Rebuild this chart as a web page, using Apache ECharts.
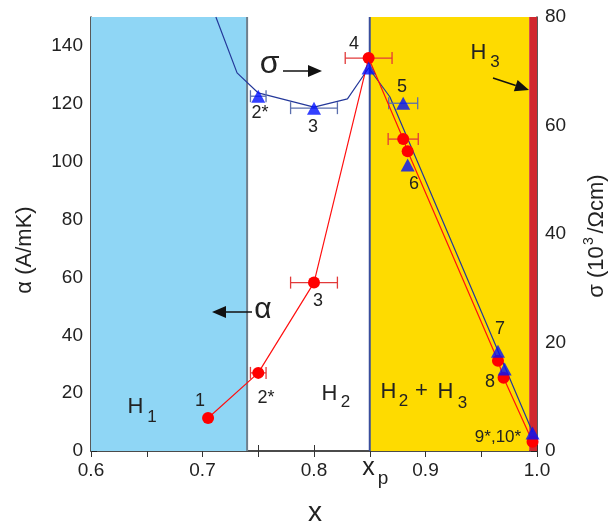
<!DOCTYPE html>
<html>
<head>
<meta charset="utf-8">
<script src="https://cdn.jsdelivr.net/npm/echarts@6/dist/echarts.min.js"></script>
<style>
  html, body { margin: 0; padding: 0; background: #fff; }
  #main { width: 615px; height: 525px; }
</style>
</head>
<body>
<div id="main"></div>
<script>
var FONT = 'Liberation Sans, Arial, sans-serif';

// x ticks every 0.05, only some labelled
var xTickLabels = ['0.6', '', '0.7', '', '0.8', '', '0.9', '', '1.0'];

// alpha (left axis) : red circles
var alphaX   = [0.705, 0.750, 0.800, 0.849, 0.880, 0.884, 0.965, 0.970, 0.996];
var alphaY   = [11.4, 27.0, 58.2, 135.8, 107.8, 103.6, 31.2, 25.3, 3.2];
var alphaErr = [0, 0.007, 0.021, 0.021, 0.0135, 0, 0, 0, 0];

// sigma (right axis) : blue triangles
var sigmaX   = [0.750, 0.800, 0.849, 0.880, 0.884, 0.965, 0.971, 0.996];
var sigmaY   = [65.4, 63.2, 70.6, 64.1, 52.7, 18.4, 15.1, 3.3];
var sigmaErr = [0.007, 0.021, 0, 0.013, 0, 0, 0, 0];

// sigma guide curve
var curveX = [0.712, 0.731, 0.750, 0.800, 0.830, 0.849, 0.868, 0.996];
var curveY = [80, 69.7, 66.0, 63.4, 64.9, 70.6, 65.3, 3.5];

// phase regions [from, to, colour]
var regions = [
  [0.60, 0.74, '#8fd6f5'],
  [0.85, 0.993, '#fedb00'],
  [0.993, 1.0, '#d0282e']
];
var borders = [[0.74, '#6f7f8c'], [0.85, '#3a4e9c']];

function zip(xs, ys) {
  var out = [];
  for (var i = 0; i < xs.length; i++) out.push([xs[i], ys[i]]);
  return out;
}
function zip3(xs, ys, es) {
  var out = [];
  for (var i = 0; i < xs.length; i++) {
    if (es[i] > 0) out.push([xs[i], ys[i], es[i]]);
  }
  return out;
}

function errBars(color) {
  return function (params, api) {
    var x = api.value(0), y = api.value(1), e = api.value(2);
    var a = api.coord([x - e, y]);
    var b = api.coord([x + e, y]);
    var st = { stroke: color, lineWidth: 1.3 };
    return {
      type: 'group',
      children: [
        { type: 'line', shape: { x1: a[0], y1: a[1], x2: b[0], y2: b[1] }, style: st },
        { type: 'line', shape: { x1: a[0], y1: a[1] - 6, x2: a[0], y2: a[1] + 6 }, style: st },
        { type: 'line', shape: { x1: b[0], y1: b[1] - 6, x2: b[0], y2: b[1] + 6 }, style: st }
      ]
    };
  };
}

function txt(s, x, y, size, rot) {
  return {
    type: 'text', z: 50, x: x, y: y, rotation: rot || 0,
    style: {
      text: s, x: 0, y: 0, fill: '#222', font: size + 'px ' + FONT,
      textAlign: 'center', textVerticalAlign: 'middle'
    }
  };
}

function arrow(x1, y1, x2, y2) {
  var ang = Math.atan2(y2 - y1, x2 - x1);
  var L = 14, W = 6;
  var bx = x2 - L * Math.cos(ang), by = y2 - L * Math.sin(ang);
  var px = -Math.sin(ang) * W, py = Math.cos(ang) * W;
  return {
    type: 'group', z: 50,
    children: [
      { type: 'line', z: 50, shape: { x1: x1, y1: y1, x2: bx, y2: by }, style: { stroke: '#111', lineWidth: 1.5 } },
      { type: 'polygon', z: 50, shape: { points: [[x2, y2], [bx + px, by + py], [bx - px, by - py]] }, style: { fill: '#111' } }
    ]
  };
}

var chart = echarts.init(document.getElementById('main'));

var axisText = { color: '#222', fontSize: 19, fontFamily: FONT };

option = {
  animation: false,
  grid: { left: 91, right: 78, top: 17, bottom: 74 },
  xAxis: [
    {
      type: 'value', min: 0.6, max: 1.0, interval: 0.05,
      splitLine: { show: false },
      axisLine: { lineStyle: { color: '#333', width: 1.5 } },
      axisTick: { inside: true, length: 6, lineStyle: { color: '#333' } },
      axisLabel: Object.assign({
        margin: 10,
        formatter: function (v) { return xTickLabels[Math.round((v - 0.6) / 0.05)] || ''; }
      }, axisText)
    },
    {
      type: 'value', position: 'top', min: 0.6, max: 1.0, interval: 0.05,
      splitLine: { show: false },
      axisLine: { lineStyle: { color: '#444', width: 1.5 } },
      axisTick: { inside: true, length: 6, lineStyle: { color: '#333' } },
      axisLabel: { show: false }
    }
  ],
  yAxis: [
    {
      type: 'value', min: 0, max: 150, interval: 10,
      splitLine: { show: false },
      axisLine: { show: true, lineStyle: { color: '#222', width: 1.5 } },
      axisTick: { show: true, inside: true, length: 6, lineStyle: { color: '#222' } },
      axisLabel: Object.assign({
        margin: 8,
        formatter: function (v) { return v % 20 === 0 ? String(v) : ''; }
      }, axisText)
    },
    {
      type: 'value', min: 0, max: 80, interval: 10, position: 'right',
      splitLine: { show: false },
      axisLine: { show: true, lineStyle: { color: '#222', width: 1.5 } },
      axisTick: { show: true, inside: true, length: 6, lineStyle: { color: '#222' } },
      axisLabel: Object.assign({
        margin: 8,
        formatter: function (v) { return v % 20 === 0 ? String(v) : ''; }
      }, axisText)
    }
  ],
  series: [
    {
      type: 'custom', z: 1, silent: true,
      data: regions,
      renderItem: function (params, api) {
        var p0 = api.coord([api.value(0), 150]);
        var p1 = api.coord([api.value(1), 0]);
        return {
          type: 'rect',
          shape: { x: p0[0], y: p0[1], width: p1[0] - p0[0], height: p1[1] - p0[1] },
          style: { fill: regions[params.dataIndex][2] }
        };
      }
    },
    {
      type: 'custom', z: 2, silent: true,
      data: borders,
      renderItem: function (params, api) {
        var p0 = api.coord([api.value(0), 150]);
        var p1 = api.coord([api.value(0), 0]);
        return {
          type: 'line',
          shape: { x1: p0[0], y1: p0[1], x2: p1[0], y2: p1[1] },
          style: { stroke: borders[params.dataIndex][1], lineWidth: 2 }
        };
      }
    },
    {
      type: 'line', yAxisIndex: 1, z: 3,
      data: zip(curveX, curveY),
      showSymbol: false,
      lineStyle: { color: '#24389a', width: 1.2 }
    },
    {
      type: 'custom', z: 4, yAxisIndex: 1,
      data: zip3(sigmaX, sigmaY, sigmaErr),
      renderItem: errBars('#5b6fae')
    },
    {
      type: 'custom', z: 4,
      data: zip3(alphaX, alphaY, alphaErr),
      renderItem: errBars('#e23a3a')
    },
    {
      type: 'line', z: 5,
      data: zip(alphaX, alphaY),
      symbol: 'circle', symbolSize: 12,
      itemStyle: { color: '#ff0000' },
      lineStyle: { color: '#ff1010', width: 1.2 }
    },
    {
      type: 'scatter', yAxisIndex: 1, z: 6,
      data: zip(sigmaX, sigmaY),
      symbol: 'triangle', symbolSize: [14, 13],
      itemStyle: { color: '#0010ff' }
    }
  ],
  graphic: [
    // point labels
    txt('1', 200, 401, 18),
    txt('2*', 266, 398, 18),
    txt('2*', 260, 113, 18),
    txt('3', 318, 301, 18),
    txt('3', 313, 127, 18),
    txt('4', 354, 44, 18),
    txt('5', 402, 87, 18),
    txt('6', 414, 184, 18),
    txt('7', 500, 329, 18),
    txt('8', 490, 382, 18),
    txt('9*,10*', 498, 437, 17),
    // phase labels
    txt('H', 135.5, 406.5, 22), txt('1', 152, 417, 17),
    txt('H', 329.5, 393.5, 22), txt('2', 345.5, 402, 17),
    txt('H', 388.5, 391.5, 22), txt('2', 403.5, 401.5, 17),
    txt('+', 421.5, 391, 22),
    txt('H', 445.5, 391.5, 22), txt('3', 462.5, 403, 17),
    txt('H', 478.5, 52.5, 22), txt('3', 495, 62.5, 17),
    arrow(493, 78, 529, 90),
    // sigma / alpha pointers
    txt('σ', 269.5, 64, 32),
    arrow(283, 71, 322, 71),
    txt('α', 263, 310, 30),
    arrow(252, 312, 212, 312),
    // x axis special label
    txt('x', 368.5, 468, 25), txt('p', 383, 479, 19),
    // axis names
    txt('x', 315, 513, 28),
    txt('α (A/mK)', 25, 250, 22, Math.PI / 2),
    txt('σ (10', 597, 272, 22, Math.PI / 2),
    txt('3', 589, 241, 14, Math.PI / 2),
    txt('/Ωcm)', 597, 204, 22, Math.PI / 2)
  ]
};

chart.setOption(option);
</script>
</body>
</html>
